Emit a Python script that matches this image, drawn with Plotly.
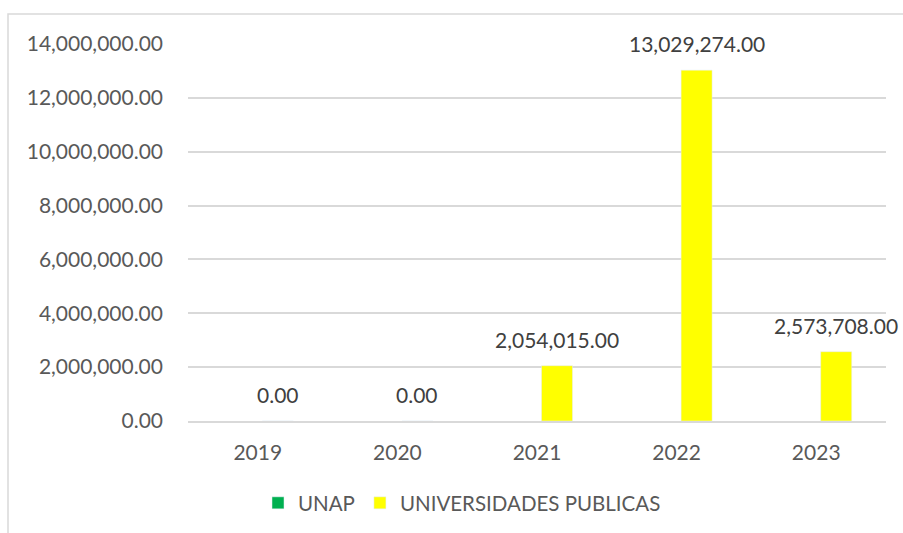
import plotly.graph_objects as go

years = ["2019", "2020", "2021", "2022", "2023"]
unap = [None, None, None, None, None]
universidades_publicas = [0.0, 0.0, 2054015.0, 13029274.0, 2573708.0]
y_ticks = [0, 2000000, 4000000, 6000000, 8000000, 10000000, 12000000, 14000000]

FONT = "Lato, 'Open Sans', sans-serif"
GRID = "#d9d9d9"

fig = go.Figure()
fig.add_bar(
    x=years,
    y=unap,
    name="UNAP",
    marker_color="#00b050",
)
fig.add_bar(
    x=years,
    y=universidades_publicas,
    name="UNIVERSIDADES PUBLICAS",
    marker_color="#ffff00",
)

# etiquetas de datos sobre las barras amarillas; en eje de categorías se usa el índice
for i, value in enumerate(universidades_publicas):
    fig.add_annotation(
        x=i,
        y=value,
        text=f"{value:,.2f}",
        showarrow=False,
        xshift=20,
        yshift=12,
        yanchor="bottom",
        font={"family": FONT, "size": 21, "color": "#404040"},
    )

# marco del área del gráfico
fig.add_shape(
    type="rect",
    xref="paper",
    yref="paper",
    x0=-180 / 698,
    x1=1.05,
    y0=-0.35,
    y1=1 + 30 / 377,
    line={"color": GRID, "width": 1.5},
    layer="below",
)

fig.update_layout(
    width=903,
    height=533,
    margin={"l": 188, "r": 17, "t": 44, "b": 112},
    paper_bgcolor="white",
    plot_bgcolor="white",
    barmode="group",
    bargap=0.427,
    bargroupgap=0.225,
    font={"family": FONT, "size": 21, "color": "#595959"},
    showlegend=True,
    legend={
        "orientation": "h",
        "xref": "container",
        "yref": "container",
        "x": 462 / 903,
        "xanchor": "center",
        "y": (533 - 503) / 533,
        "yanchor": "middle",
        "font": {"family": FONT, "size": 20.5, "color": "#595959"},
        "itemwidth": 30,
    },
    xaxis={
        "type": "category",
        "range": [-0.5, len(years) - 0.5],
        "showgrid": False,
        "showline": True,
        "linecolor": GRID,
        "linewidth": 1.5,
        "ticks": "",
        "ticklabelstandoff": 12,
    },
    yaxis={
        "range": [0, 14000000],
        "tickvals": y_ticks,
        "tickformat": ",.2f",
        "showgrid": True,
        "gridcolor": GRID,
        "gridwidth": 1.5,
        "zeroline": False,
        "showline": False,
        "ticks": "",
        "ticklabelstandoff": 24,
    },
)

fig.write_html(
    "out.html",
    config={"displayModeBar": False},
    post_script="document.body.style.margin='0';document.body.style.overflow='hidden';",
)
